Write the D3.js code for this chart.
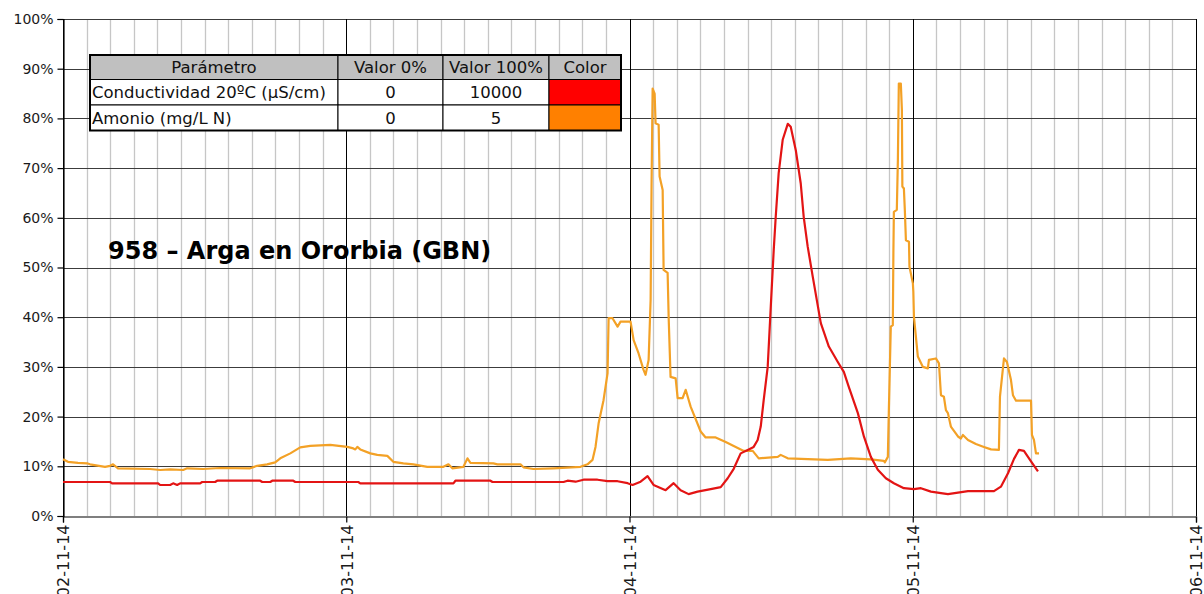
<!DOCTYPE html>
<html>
<head>
<meta charset="utf-8">
<script src="https://cdn.jsdelivr.net/npm/d3@7"></script>
<style>
  html, body { margin: 0; padding: 0; background: #ffffff; }
  svg { display: block; }
</style>
</head>
<body>
<svg id="chart" width="1204" height="594"></svg>
<script>
// ---- Data ---------------------------------------------------------------
const stationTitle = "958 – Arga en Ororbia (GBN)";

const tableHeaders = ["Parámetro", "Valor 0%", "Valor 100%", "Color"];
const parameterNames = ["Conductividad 20ºC (µS/cm)", "Amonio (mg/L N)"];
const scaleMinValues = [0, 0];
const scaleMaxValues = [10000, 5];

const yTickValues = [0, 10, 20, 30, 40, 50, 60, 70, 80, 90, 100];
const periodStart = new Date(2014, 10, 2, 0, 0);
const periodEnd = new Date(2014, 10, 6, 0, 0);

// [hours since 02-11-14 00:00, conductivity µS/cm]
const conductivityReadings = [
  [0, 684], [3.99, 684], [4.16, 657], [8.06, 657], [8.23, 624], [9.08, 624],
  [9.33, 657], [9.67, 624], [9.92, 657], [11.62, 657], [11.79, 684], [12.89, 684],
  [13.06, 710], [16.71, 710], [16.88, 684], [17.56, 684], [17.73, 710], [19.51, 710],
  [19.68, 684], [25.02, 684], [25.19, 657], [33.08, 657], [33.25, 710], [36.22, 710],
  [36.39, 684], [42.41, 684], [42.75, 710], [43.43, 690], [44.10, 730], [45.29, 730],
  [46.14, 700], [46.99, 700], [47.84, 660], [48.26, 624], [48.94, 690], [49.53, 800],
  [50.04, 624], [51.06, 520], [51.74, 660], [52.33, 520], [53.01, 440], [53.77, 490],
  [54.88, 540], [55.73, 580], [56.32, 760], [56.83, 950], [57.42, 1260], [58.02, 1330],
  [58.52, 1390], [58.86, 1530], [59.12, 1800], [59.37, 2330], [59.71, 3000], [59.97, 4210],
  [60.22, 5350], [60.39, 6020], [60.64, 6900], [60.98, 7570], [61.41, 7890], [61.66, 7830],
  [62.09, 7360], [62.51, 6690], [62.76, 6020], [63.10, 5420], [63.53, 4810], [64.21, 3880],
  [64.89, 3410], [65.65, 3100], [66.16, 2900], [66.58, 2600], [67.35, 2070], [67.86, 1600],
  [68.45, 1190], [69.04, 930], [69.72, 760], [70.40, 660], [71.25, 560], [72.10, 540],
  [72.69, 560], [73.54, 490], [74.39, 460], [74.98, 440], [75.83, 470], [76.68, 500],
  [78.88, 500], [79.47, 590], [80.07, 860], [80.58, 1150], [81.00, 1330], [81.42, 1310],
  [82.02, 1100], [82.61, 900]
];

// [hours since 02-11-14 00:00, ammonium mg/L N]
const ammoniumReadings = [
  [0, 0.570], [0.42, 0.545], [1.27, 0.535], [2.04, 0.530], [2.29, 0.520], [3.56, 0.495],
  [3.99, 0.505], [4.24, 0.520], [4.66, 0.480], [7.38, 0.473], [8.23, 0.463], [9.08, 0.470],
  [10.18, 0.463], [10.52, 0.480], [11.87, 0.473], [13.32, 0.483], [15.86, 0.480], [16.45, 0.505],
  [17.30, 0.520], [17.98, 0.540], [18.41, 0.580], [19.26, 0.630], [20.10, 0.690], [20.95, 0.705],
  [22.65, 0.715], [24.09, 0.695], [24.60, 0.680], [24.77, 0.670], [24.94, 0.695], [25.19, 0.670],
  [26.04, 0.630], [26.63, 0.615], [27.48, 0.605], [27.99, 0.545], [28.84, 0.530], [29.69, 0.520],
  [30.87, 0.495], [32.23, 0.495], [32.66, 0.520], [32.99, 0.480], [33.93, 0.495], [34.27, 0.580],
  [34.52, 0.535], [36.47, 0.530], [36.81, 0.520], [38.76, 0.520], [39.02, 0.490], [39.86, 0.473],
  [41.56, 0.480], [43.85, 0.495], [44.44, 0.520], [44.87, 0.565], [45.12, 0.695], [45.38, 0.930],
  [45.80, 1.165], [46.14, 1.435], [46.23, 1.990], [46.56, 1.990], [46.99, 1.905], [47.24, 1.955],
  [48.09, 1.955], [48.35, 1.770], [48.77, 1.635], [49.19, 1.470], [49.36, 1.420], [49.62, 1.570],
  [49.79, 2.175], [49.87, 3.345], [49.96, 4.300], [50.13, 4.250], [50.21, 3.950], [50.47, 3.935],
  [50.55, 3.415], [50.81, 3.280], [50.89, 2.475], [51.23, 2.445], [51.32, 1.990], [51.48, 1.400],
  [51.91, 1.385], [52.08, 1.185], [52.50, 1.185], [52.76, 1.270], [53.18, 1.100], [54.03, 0.850],
  [54.45, 0.790], [55.30, 0.790], [56.15, 0.745], [56.83, 0.705], [57.68, 0.655], [58.44, 0.655],
  [58.95, 0.580], [60.56, 0.595], [60.81, 0.615], [61.41, 0.580], [64.80, 0.565], [66.75, 0.580],
  [68.45, 0.570], [69.55, 0.555], [69.64, 0.540], [69.89, 0.595], [69.97, 1.035], [70.14, 1.905],
  [70.31, 1.920], [70.36, 2.645], [70.40, 3.060], [70.65, 3.080], [70.74, 3.580], [70.82, 4.350],
  [70.99, 4.350], [71.08, 4.085], [71.12, 3.315], [71.25, 3.295], [71.34, 3.045], [71.42, 2.775],
  [71.68, 2.760], [71.72, 2.510], [72.01, 2.340], [72.05, 2.255], [72.10, 2.005], [72.43, 1.605],
  [72.86, 1.500], [73.28, 1.485], [73.37, 1.570], [73.96, 1.585], [74.22, 1.535], [74.39, 1.215],
  [74.64, 1.200], [74.81, 1.065], [74.98, 1.035], [75.23, 0.900], [75.83, 0.800], [76.08, 0.780],
  [76.25, 0.815], [76.68, 0.765], [77.35, 0.725], [78.03, 0.695], [78.63, 0.670], [79.30, 0.665],
  [79.39, 1.200], [79.73, 1.585], [79.98, 1.550], [80.32, 1.370], [80.49, 1.215], [80.75, 1.160],
  [82.02, 1.160], [82.10, 0.815], [82.27, 0.765], [82.44, 0.630], [82.70, 0.630]
];

// ---- Styles -------------------------------------------------------------
const swatchColors = ["#ff0000", "#ff8000"];
const lineColors = ["#e31414", "#f3a126"];

// ---- Layout -------------------------------------------------------------
const plot = { left: 63, right: 1196, top: 19, bottom: 516 };
const svg = d3.select("#chart");

const x = d3.scaleTime().domain([periodStart, periodEnd]).range([plot.left, plot.right]);
const y = d3.scaleLinear().domain([0, 100]).range([plot.bottom, plot.top]);

const hoursToDate = h => new Date(periodStart.getTime() + h * 3600 * 1000);
const toPercent = (value, i) => (value - scaleMinValues[i]) / (scaleMaxValues[i] - scaleMinValues[i]) * 100;

// ---- Grid ---------------------------------------------------------------
const grid = svg.append("g");
const dayTicks = d3.timeDay.range(periodStart, d3.timeDay.offset(periodEnd, 1));
const minorTicks = d3.timeHour.every(2).range(periodStart, periodEnd)
  .filter(d => d.getHours() !== 0);

grid.selectAll("line.minor").data(minorTicks).join("line")
  .attr("x1", d => Math.round(x(d)) + 0.5).attr("x2", d => Math.round(x(d)) + 0.5)
  .attr("y1", plot.top).attr("y2", plot.bottom)
  .attr("stroke", "#c6c6c6").attr("stroke-width", 1.3);

grid.selectAll("line.h").data(yTickValues.filter(v => v > 0)).join("line")
  .attr("x1", plot.left).attr("x2", plot.right)
  .attr("y1", d => Math.round(y(d)) + 0.5).attr("y2", d => Math.round(y(d)) + 0.5)
  .attr("stroke", "#3c3c3c").attr("stroke-width", 1);

grid.selectAll("line.major").data(dayTicks).join("line")
  .attr("x1", d => Math.round(x(d)) + 0.5).attr("x2", d => Math.round(x(d)) + 0.5)
  .attr("y1", plot.top).attr("y2", plot.bottom)
  .attr("stroke", "#000").attr("stroke-width", 1);

// ---- Axes ---------------------------------------------------------------
const yAxis = svg.append("g")
  .attr("transform", `translate(${plot.left + 0.5},0)`)
  .call(d3.axisLeft(y).tickValues(yTickValues).tickFormat(d => d + "%").tickSize(6).tickPadding(4));
yAxis.select(".domain").attr("stroke", "#000").attr("stroke-width", 1.2);
yAxis.selectAll(".tick line").attr("stroke", "#000").attr("stroke-width", 1.2);
yAxis.selectAll(".tick text")
  .attr("font-family", "DejaVu Sans, Verdana, sans-serif")
  .attr("font-size", 14).attr("fill", "#1a1a1a");

const xAxis = svg.append("g")
  .attr("transform", `translate(0,${plot.bottom + 0.5})`)
  .call(d3.axisBottom(x).tickValues(dayTicks).tickFormat(d3.timeFormat("%d-%m-%y")).tickSize(6).tickPadding(0));
xAxis.select(".domain").attr("stroke", "#000").attr("stroke-width", 1.2);
xAxis.selectAll(".tick line").attr("stroke", "#000").attr("stroke-width", 1.2);
xAxis.selectAll(".tick text")
  .attr("font-family", "DejaVu Sans, Verdana, sans-serif")
  .attr("font-size", 16).attr("fill", "#1a1a1a")
  .attr("text-anchor", "end")
  .attr("transform", "translate(0,8) rotate(-90)")
  .attr("x", 0).attr("y", 0).attr("dy", "0.36em");

// ---- Series -------------------------------------------------------------
const lineGen = i => d3.line()
  .x(d => x(hoursToDate(d[0])))
  .y(d => y(toPercent(d[1], i)));

svg.append("path").datum(ammoniumReadings)
  .attr("d", lineGen(1)).attr("fill", "none")
  .attr("stroke", lineColors[1]).attr("stroke-width", 2.2)
  .attr("stroke-linejoin", "round");

svg.append("path").datum(conductivityReadings)
  .attr("d", lineGen(0)).attr("fill", "none")
  .attr("stroke", lineColors[0]).attr("stroke-width", 2.2)
  .attr("stroke-linejoin", "round");

// ---- Station title ------------------------------------------------------
svg.append("text")
  .attr("x", 108).attr("y", 259)
  .attr("font-family", "DejaVu Sans, Verdana, sans-serif")
  .attr("font-weight", "bold").attr("font-size", 24).attr("fill", "#000")
  .text(stationTitle);

// ---- Parameter table ----------------------------------------------------
const colEdges = [90, 338, 443, 549, 621];
const rowEdges = [55, 79.5, 105, 130.5];
const table = svg.append("g");

const rows = [tableHeaders].concat(parameterNames.map((name, i) =>
  [name, String(scaleMinValues[i]), String(scaleMaxValues[i]), null]));

rows.forEach((row, r) => {
  row.forEach((cell, c) => {
    let fill = r === 0 ? "#c0c0c0" : "#ffffff";
    if (r > 0 && c === 3) fill = swatchColors[r - 1];
    table.append("rect")
      .attr("x", colEdges[c]).attr("y", rowEdges[r])
      .attr("width", colEdges[c + 1] - colEdges[c])
      .attr("height", rowEdges[r + 1] - rowEdges[r])
      .attr("fill", fill).attr("stroke", "#000").attr("stroke-width", 1);
    if (cell !== null) {
      const leftAligned = r > 0 && c === 0;
      table.append("text")
        .attr("x", leftAligned ? colEdges[c] + 2 : (colEdges[c] + colEdges[c + 1]) / 2)
        .attr("y", (rowEdges[r] + rowEdges[r + 1]) / 2)
        .attr("dy", "0.36em")
        .attr("text-anchor", leftAligned ? "start" : "middle")
        .attr("font-family", "DejaVu Sans, Tahoma, sans-serif")
        .attr("font-size", 16.5).attr("fill", "#111")
        .text(cell);
    }
  });
});

table.append("rect")
  .attr("x", colEdges[0]).attr("y", rowEdges[0])
  .attr("width", colEdges[4] - colEdges[0]).attr("height", rowEdges[3] - rowEdges[0])
  .attr("fill", "none").attr("stroke", "#000").attr("stroke-width", 2);
</script>
</body>
</html>
